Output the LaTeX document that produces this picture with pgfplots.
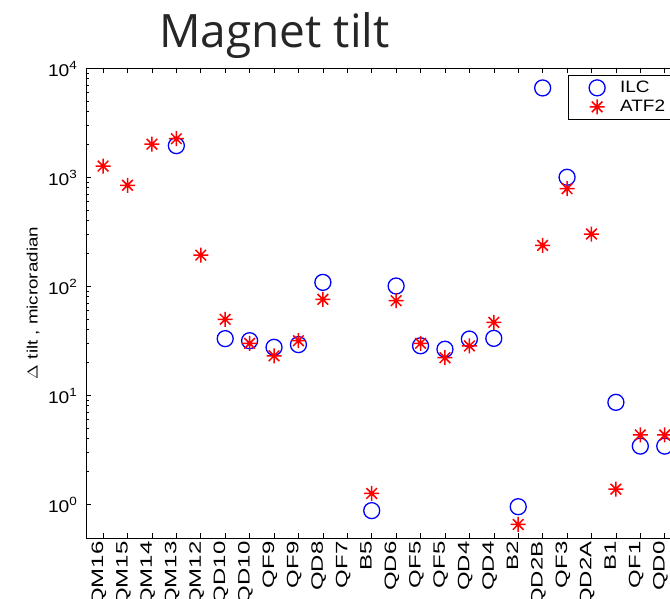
\documentclass[border=0pt]{standalone}
\usepackage{fontspec}
\setmainfont{Liberation Sans}
\newfontfamily\titlefont{Open Sans}
\usepackage{graphicx}
\usepackage{pgfplots}
\pgfplotsset{compat=1.18}

% matlab style '*' marker: 8 arms
\pgfdeclareplotmark{mstar}{%
  \pgfpathmoveto{\pgfpoint{-\pgfplotmarksize}{0pt}}%
  \pgfpathlineto{\pgfpoint{\pgfplotmarksize}{0pt}}%
  \pgfpathmoveto{\pgfpoint{0pt}{-\pgfplotmarksize}}%
  \pgfpathlineto{\pgfpoint{0pt}{\pgfplotmarksize}}%
  \pgfpathmoveto{\pgfpoint{-0.707\pgfplotmarksize}{-0.707\pgfplotmarksize}}%
  \pgfpathlineto{\pgfpoint{0.707\pgfplotmarksize}{0.707\pgfplotmarksize}}%
  \pgfpathmoveto{\pgfpoint{-0.707\pgfplotmarksize}{0.707\pgfplotmarksize}}%
  \pgfpathlineto{\pgfpoint{0.707\pgfplotmarksize}{-0.707\pgfplotmarksize}}%
  \pgfusepathqstroke}

% labels in the reference are stretched along the text
\newcommand\sx[1]{\scalebox{1.45}[1]{#1}}
\newcommand\sy[1]{\scalebox{1.13}[1]{10\textsuperscript{#1}}}

\pgfplotstableread{
x y
4 1940
6 32.9
7 31.5
8 27.4
9 29
10 108
12 0.87
13 100
14 28.3
15 26.3
16 32.6
17 33.1
18 0.945
19 6560
20 994
22 8.57
23 3.4
24 3.4
}\ilc

\pgfplotstableread{
x y
1 1260
2 840
3 2000
4 2245
5 192
6 49.5
7 29.8
8 22.9
9 31.5
10 75.5
12 1.25
13 73.3
14 29.8
15 22
16 28.2
17 46.4
18 0.65
19 236
20 781
21 300
22 1.37
23 4.3
24 4.3
}\atf

\begin{document}
\begin{tikzpicture}
\useasboundingbox (0pt,0pt) rectangle (670pt,599pt);
\begin{scope}[overlay]
\clip (0pt,0pt) rectangle (670pt,599pt);
\begin{semilogyaxis}[
  scale only axis,
  at={(86pt,61pt)}, anchor=south west,
  width=652pt, height=470pt,
  xmin=0.3, xmax=27,
  ymin=0.488, ymax=10000,
  axis line style={line width=0.8pt},
  tick style={black, line width=0.6pt},
  major tick length=5pt, minor tick length=3pt,
  xtick={1,...,24},
  xticklabels={\sx{QM16},\sx{QM15},\sx{QM14},\sx{QM13},\sx{QM12},\sx{QD10},\sx{QD10},\sx{QF9},\sx{QF9},\sx{QD8},\sx{QF7},\sx{B5},\sx{QD6},\sx{QF5},\sx{QF5},\sx{QD4},\sx{QD4},\sx{B2},\sx{QD2B},\sx{QF3},\sx{QD2A},\sx{B1},\sx{QF1},\sx{QD0}},
  xticklabel style={rotate=90, anchor=base east, font=\fontsize{16.5}{20}\selectfont},
  ytick={1,10,100,1000,10000},
  yticklabels={\sy{0},\sy{1},\sy{2},\sy{3},\sy{4}},
  yticklabel style={font=\fontsize{17}{20}\selectfont, xshift=-5pt, yshift=-1pt},
  ylabel={\scalebox{1.25}[1]{$\Delta$ tilt , microradian}},
  ylabel style={at={(axis description cs:-0.081,0.5)}, anchor=center, font=\fontsize{15}{18}\selectfont},
  legend style={at={(axis description cs:0.739,0.985)}, anchor=north west,
    draw=black, line width=0.6pt, font=\fontsize{16.5}{20}\selectfont,
    inner xsep=5pt, inner ysep=4pt, row sep=2pt},
  legend image code/.code={\draw[#1, only marks] plot coordinates {(24pt,0pt)}; \path[draw=none] (0pt,0pt) (45pt,0pt);},
  legend cell align=left,
]
\addplot[only marks, mark=o, mark size=8pt, blue, line width=1.3pt] table {\ilc};
\addlegendentry{\scalebox{1.15}[1]{ILC}}
\addplot[only marks, mark=mstar, mark size=7.5pt, red, line width=1.5pt] table {\atf};
\addlegendentry{\scalebox{1.15}[1]{ATF2}}
\end{semilogyaxis}
\node[font=\titlefont\fontsize{46}{50}\selectfont, anchor=base, text=black!85] at (274.5pt,551pt) {Magnet tilt};
\end{scope}
\end{tikzpicture}
\end{document}
